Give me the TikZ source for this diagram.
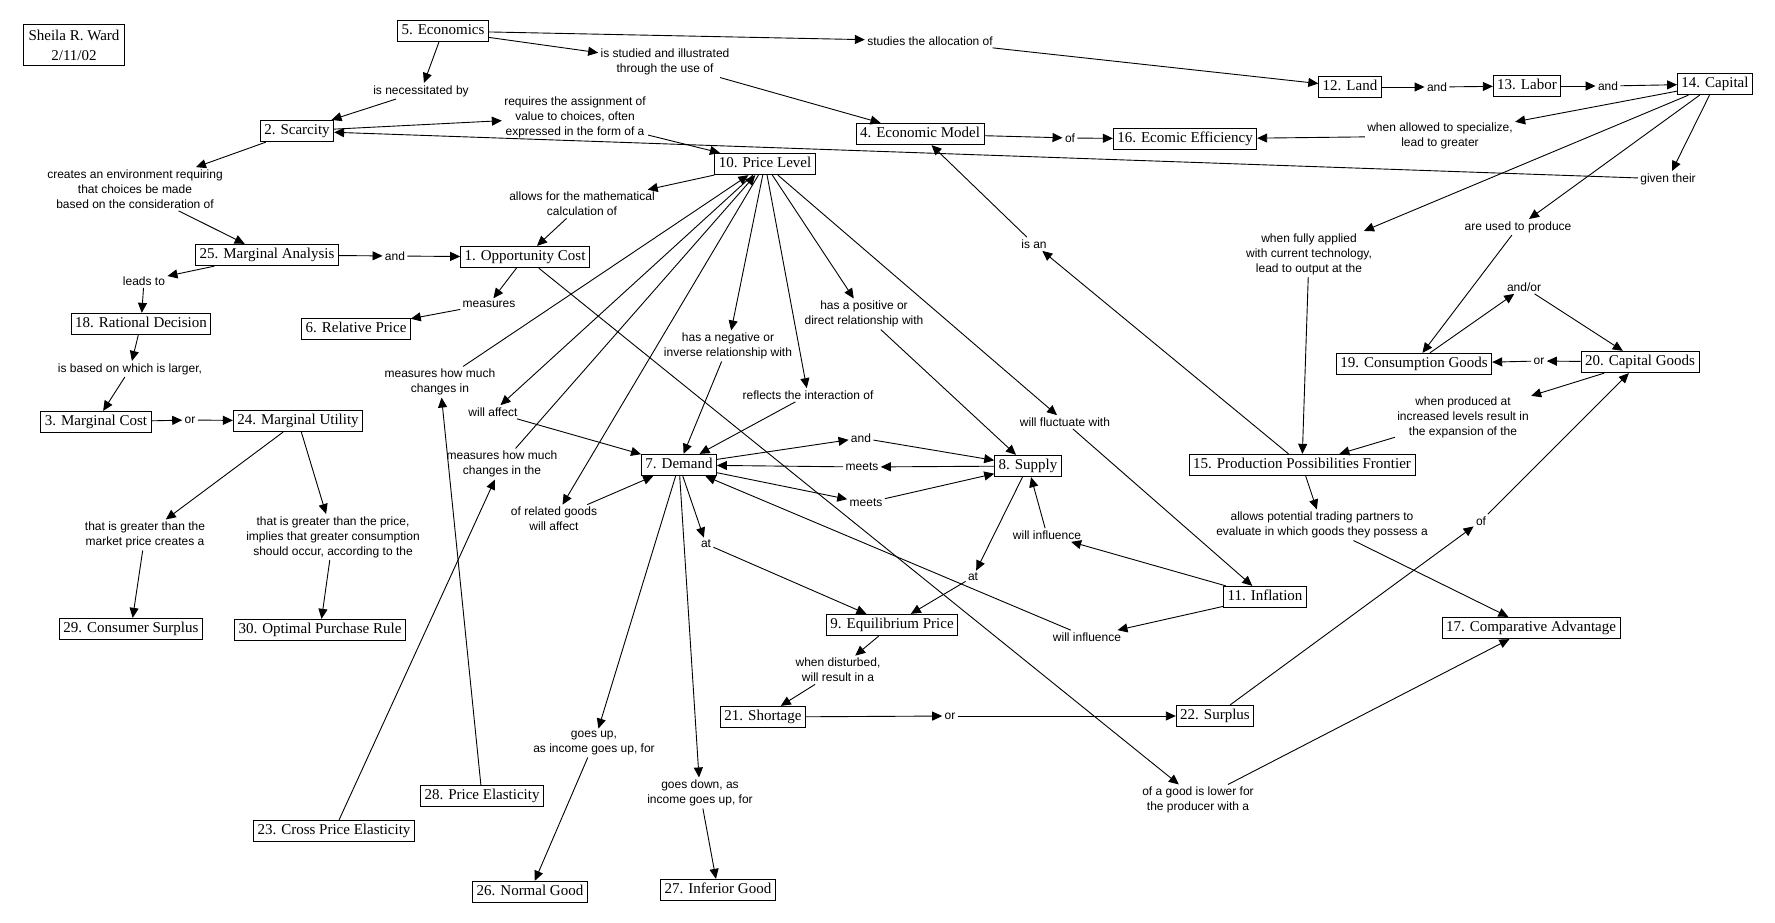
\documentclass[tikz,border=0pt]{standalone}
\usepackage{fontspec}
\setmainfont{Liberation Serif}
\setsansfont{Liberation Sans}
\usetikzlibrary{arrows.meta}

\begin{document}
\begin{tikzpicture}[x=1pt, y=-1pt, line width=.9pt,
  >={Triangle[length=10pt,width=9pt]},
  concept/.style={draw, line width=.8pt, font=\fontsize{15}{17}\selectfont,
    inner xsep=4pt, inner ysep=3.5pt, text height=11pt, text depth=3.5pt},
  link/.style={font=\sffamily\fontsize{12}{15}\selectfont, align=center, inner sep=2pt}]
  \useasboundingbox (0,0) rectangle (1775,923);
  \node [draw, line width=.8pt, font=\fontsize{15}{20}\selectfont, align=center,
    minimum width=101pt, minimum height=41pt, inner sep=2pt] (author) at (74,45) {Sheila R. Ward\\2/11/02};
  \node [concept] (econ) at (443,31) {5. Economics};
  \node [concept] (scar) at (297,131) {2. Scarcity};
  \node [concept] (marg) at (267,255) {25. Marginal Analysis};
  \node [concept] (opp) at (525,257) {1. Opportunity Cost};
  \node [concept] (ratdec) at (141,324) {18. Rational Decision};
  \node [concept] (relp) at (356,329) {6. Relative Price};
  \node [concept] (mcost) at (96,422) {3. Marginal Cost};
  \node [concept] (mutil) at (298,421) {24. Marginal Utility};
  \node [concept] (csurp) at (131,629) {29. Consumer Surplus};
  \node [concept] (optrule) at (320,630) {30. Optimal Purchase Rule};
  \node [concept] (pelast) at (482,796) {28. Price Elasticity};
  \node [concept] (xelast) at (334,831) {23. Cross Price Elasticity};
  \node [concept] (normal) at (530,892) {26. Normal Good};
  \node [concept] (inferior) at (718,890) {27. Inferior Good};
  \node [concept] (plevel) at (765,164) {10. Price Level};
  \node [concept] (emodel) at (920,134) {4. Economic Model};
  \node [concept] (eeff) at (1185,139) {16. Ecomic Efficiency};
  \node [concept] (land) at (1350,87) {12. Land};
  \node [concept] (labor) at (1527,86) {13. Labor};
  \node [concept] (capital) at (1715,84) {14. Capital};
  \node [concept] (demand) at (679,465) {7. Demand};
  \node [concept] (supply) at (1028,466) {8. Supply};
  \node [concept] (eqprice) at (892,625) {9. Equilibrium Price};
  \node [concept] (shortage) at (763,717) {21. Shortage};
  \node [concept] (surplus) at (1215,716) {22. Surplus};
  \node [concept] (inflation) at (1265,597) {11. Inflation};
  \node [concept] (ppf) at (1302,465) {15. Production Possibilities Frontier};
  \node [concept] (cgoods) at (1414,364) {19. Consumption Goods};
  \node [concept] (kgoods) at (1640,362) {20. Capital Goods};
  \node [concept] (compadv) at (1531,628) {17. Comparative Advantage};

  \node [link] (necess) at (421,91) {is necessitated by};
  \node [link] (studied) at (665,62) {is studied and illustrated\\through the use of};
  \node [link] (alloc) at (930,41) {studies the allocation of};
  \node [link] (assign) at (575,117) {requires the assignment of\\value to choices, often\\expressed in the form of a};
  \node [link] (env) at (135,189) {creates an environment requiring\\that choices be made\\based on the consideration of};
  \node [link] (andA) at (395,256) {and};
  \node [link] (leads) at (144,281) {leads to};
  \node [link] (meas) at (489,304) {measures};
  \node [link] (calc) at (582,204) {allows for the mathematical\\calculation of};
  \node [link] (larger) at (130,369) {is based on which is larger,};
  \node [link] (orA) at (190,420) {or};
  \node [link] (mkt) at (145,535) {that is greater than the\\market price creates a};
  \node [link] (price) at (333,537) {that is greater than the price,\\implies that greater consumption\\should occur, according to the};
  \node [link] (chg) at (440,382) {measures how much\\changes in};
  \node [link] (affect) at (493,412) {will affect};
  \node [link] (chgthe) at (502,464) {measures how much\\changes in the};
  \node [link] (related) at (554,519) {of related goods\\will affect};
  \node [link] (neg) at (728,346) {has a negative or\\inverse relationship with};
  \node [link] (pos) at (864,314) {has a positive or\\direct relationship with};
  \node [link] (interact) at (808,395) {reflects the interaction of};
  \node [link] (fluct) at (1065,422) {will fluctuate with};
  \node [link] (andB) at (861,438) {and};
  \node [link] (meetsA) at (862,467) {meets};
  \node [link] (meetsB) at (866,503) {meets};
  \node [link] (inflS) at (1047,535) {will influence};
  \node [link] (atD) at (706,544) {at};
  \node [link] (atS) at (973,577) {at};
  \node [link] (inflD) at (1087,637) {will influence};
  \node [link] (disturb) at (838,670) {when disturbed,\\will result in a};
  \node [link] (orB) at (950,716) {or};
  \node [link] (up) at (594,743) {goes up,\\as income goes up, for};
  \node [link] (down) at (700,793) {goes down, as\\income goes up, for};
  \node [link] (lower) at (1198,800) {of a good is lower for\\the producer with a};
  \node [link] (isan) at (1034,244) {is an};
  \node [link] (ofA) at (1070,138) {of};
  \node [link] (andC) at (1437,87) {and};
  \node [link] (andD) at (1608,86) {and};
  \node [link] (spec) at (1440,136) {when allowed to specialize,\\lead to greater};
  \node [link] (given) at (1668,179) {given their};
  \node [link] (used) at (1518,227) {are used to produce};
  \node [link] (full) at (1309,254) {when fully applied\\with current technology,\\lead to output at the};
  \node [link] (andor) at (1524,287) {and/or};
  \node [link] (orC) at (1539,361) {or};
  \node [link] (expand) at (1463,417) {when produced at\\increased levels result in\\the expansion of the};
  \node [link] (trade) at (1322,525) {allows potential trading partners to\\evaluate in which goods they possess a};
  \node [link] (ofB) at (1481,521) {of};

  \foreach \a/\b in {econ/necess, necess/scar, econ/studied, studied/emodel, econ/alloc, alloc/land,
      scar/assign, assign/plevel, scar/env, env/marg, marg/andA, andA/opp, marg/leads, leads/ratdec,
      opp/meas, meas/relp, plevel/calc, calc/opp, ratdec/larger, larger/mcost, mcost/orA, orA/mutil,
      mutil/mkt, mkt/csurp, mutil/price, price/optrule, pelast/chg, chg/plevel, xelast/chgthe, chgthe/plevel,
      plevel/affect, affect/demand, plevel/related, related/demand, plevel/neg, neg/demand,
      plevel/interact, interact/demand, plevel/pos, pos/supply, plevel/fluct, fluct/inflation,
      demand/andB, andB/supply, supply/meetsA, meetsA/demand, demand/meetsB, meetsB/supply,
      inflation/inflS, inflS/supply, inflation/inflD, inflD/demand, demand/atD, atD/eqprice,
      supply/atS, atS/eqprice, eqprice/disturb, disturb/shortage, shortage/orB, orB/surplus,
      surplus/ofB, ofB/kgoods, demand/up, up/normal, demand/down, down/inferior, opp/lower, lower/compadv,
      ppf/isan, isan/emodel, emodel/ofA, ofA/eeff, land/andC, andC/labor, labor/andD, andD/capital,
      capital/spec, spec/eeff, capital/given, given/scar, capital/used, used/cgoods, capital/full, full/ppf,
      cgoods/andor, andor/kgoods, kgoods/orC, orC/cgoods, kgoods/expand, expand/ppf, ppf/trade, trade/compadv}
    \draw [->] (\a) -- (\b);
\end{tikzpicture}
\end{document}
